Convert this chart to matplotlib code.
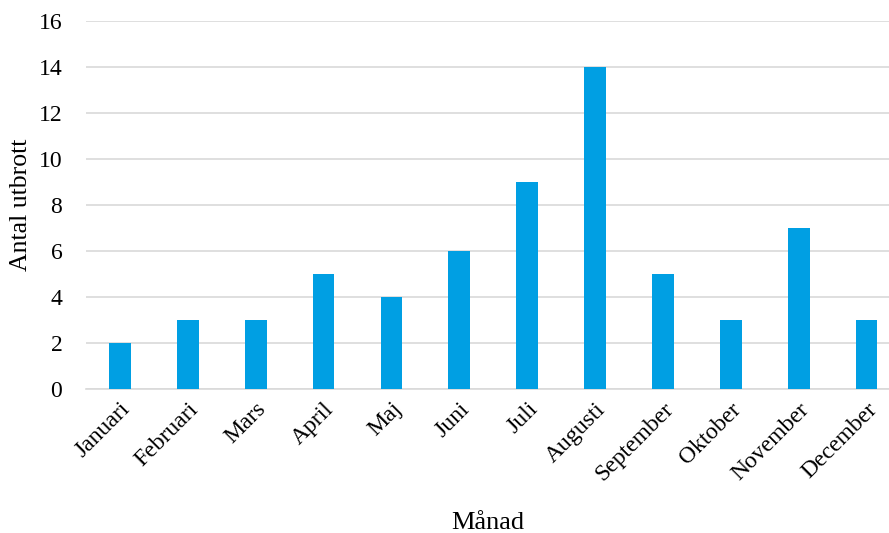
import matplotlib.pyplot as plt
import numpy as np

# data
manader = ['Januari', 'Februari', 'Mars', 'April', 'Maj', 'Juni', 'Juli',
           'Augusti', 'September', 'Oktober', 'November', 'December']
utbrott = [2, 3, 3, 5, 4, 6, 9, 14, 5, 3, 7, 3]

plt.rcParams['font.family'] = ['Liberation Serif', 'DejaVu Serif']

fig = plt.figure(figsize=(8.89, 5.33), dpi=100)
ax = fig.add_axes([0.0967, 0.270, 0.9033, 0.6907])

x = np.arange(len(manader))
ax.bar(x, utbrott, width=0.32, color='#009FE3', zorder=3)

ax.set_ylim(0, 16)
ax.set_yticks(range(0, 17, 2))
ax.set_xlim(-0.5, 11.33)
ax.set_xticks(x)
ax.set_xticklabels(manader, rotation=45, ha='right', rotation_mode='anchor')

ax.grid(axis='y', color='#D9D9D9', linewidth=1.2, zorder=0)
for s in ['top', 'right', 'left']:
    ax.spines[s].set_visible(False)
ax.spines['bottom'].set_color('#D9D9D9')
ax.spines['bottom'].set_linewidth(1.2)
ax.tick_params(axis='both', length=0, labelsize=17, pad=7)
ax.tick_params(axis='y', pad=17)

ax.set_ylabel('Antal utbrott', fontsize=18.5, labelpad=5)
ax.set_xlabel('Månad', fontsize=19, labelpad=19)

fig.savefig('out.png', dpi=100)
